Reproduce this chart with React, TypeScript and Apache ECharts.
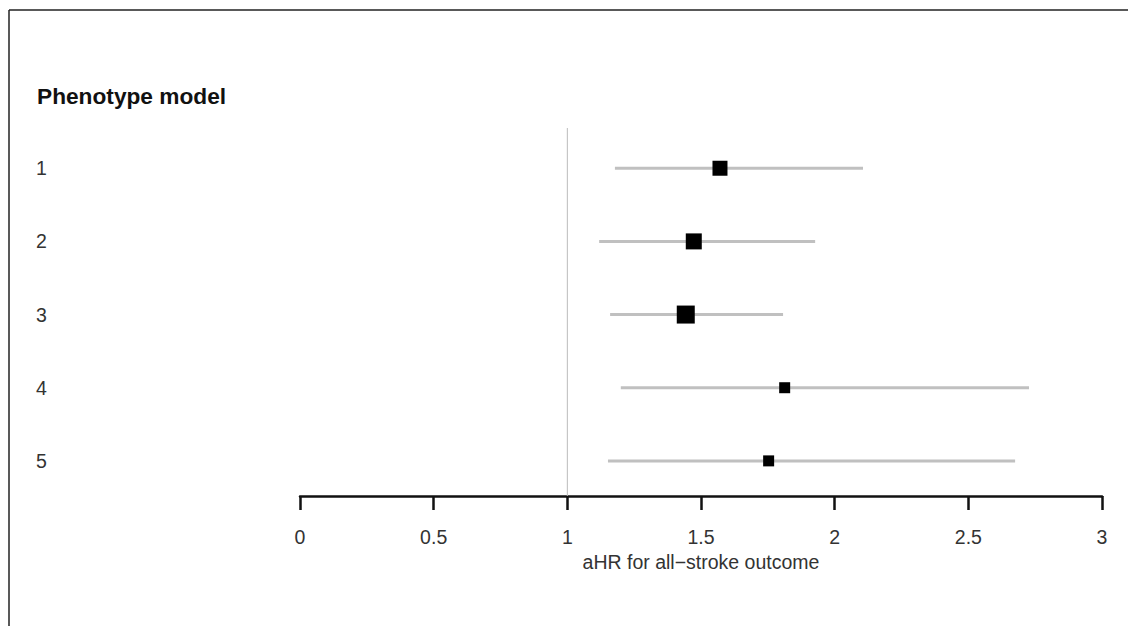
import React, { useEffect, useRef } from "react";
import * as echarts from "echarts";

const rowLabels = ["1", "2", "3", "4", "5"];
const rowPos = [1, 2, 3, 4, 5];
const estimates = [1.571, 1.473, 1.443, 1.813, 1.753];
const lowerCI = [1.178, 1.119, 1.16, 1.2, 1.152];
const upperCI = [2.106, 1.927, 1.807, 2.727, 2.675];
const boxSizes = [15, 16, 18, 11, 11];
const xTicks = [0, 0.5, 1, 1.5, 2, 2.5, 3];

export default function App() {
  const ref = useRef<HTMLDivElement>(null);
  useEffect(() => {
    if (!ref.current) return;
    const chart = echarts.init(ref.current, null, { renderer: "svg" });
    const font = "Liberation Sans, Arial, sans-serif";
    const data = rowPos.map((y, i) => [estimates[i], y, lowerCI[i], upperCI[i], boxSizes[i]]);
    chart.setOption({
      animation: false,
      backgroundColor: "#fff",
      grid: { left: 300, right: 26, top: 128, bottom: 130 },
      xAxis: {
        type: "value",
        min: 0,
        max: 3,
        interval: 0.5,
        splitLine: { show: false },
        axisLine: { show: true, onZero: false, lineStyle: { color: "#111", width: 2.5 } },
        axisTick: { show: true, inside: false, length: 14, lineStyle: { color: "#111", width: 2.5 } },
        axisLabel: {
          margin: 31,
          fontSize: 19.5,
          color: "#333",
          fontFamily: font,
          formatter: (v: number) => (xTicks.includes(v) ? String(v) : ""),
        },
        name: "aHR for all\u2212stroke outcome",
        nameLocation: "middle",
        nameGap: 56,
        nameTextStyle: { fontSize: 19.5, color: "#333", fontFamily: font },
      },
      yAxis: {
        type: "value",
        min: 0.45,
        max: 5.48,
        inverse: true,
        splitLine: { show: false },
        axisLine: { show: false },
        axisTick: { show: false },
        axisLabel: {
          customValues: rowPos,
          align: "left",
          margin: 264,
          fontSize: 19.5,
          color: "#333",
          fontFamily: font,
          formatter: (v: number) => {
            const i = rowPos.indexOf(v);
            return i >= 0 ? rowLabels[i] : "";
          },
        },
      },
      graphic: [
        { type: "line", shape: { x1: 9, y1: 10, x2: 1128, y2: 10 }, style: { stroke: "#222", lineWidth: 1.5 } },
        { type: "line", shape: { x1: 9, y1: 10, x2: 9, y2: 626 }, style: { stroke: "#222", lineWidth: 1.5 } },
        {
          type: "text",
          left: 37,
          top: 84,
          style: { text: "Phenotype model", font: `bold 22.7px ${font}`, fill: "#111" },
        },
      ],
      series: [
        {
          type: "line",
          data: [[1, 0.45], [1, 5.48]],
          symbol: "none",
          lineStyle: { color: "#bbb", width: 1 },
          silent: true,
        },
        {
          type: "custom",
          data,
          renderItem: (params: any, api: any) => {
            const est = api.value(0);
            const y = api.value(1);
            const lo = api.coord([api.value(2), y]);
            const hi = api.coord([api.value(3), y]);
            const c = api.coord([est, y]);
            const s = api.value(4);
            return {
              type: "group",
              children: [
                {
                  type: "line",
                  shape: { x1: lo[0], y1: lo[1], x2: hi[0], y2: hi[1] },
                  style: { stroke: "#c0c0c0", lineWidth: 3 },
                },
                {
                  type: "rect",
                  shape: { x: c[0] - s / 2, y: c[1] - s / 2, width: s, height: s },
                  style: { fill: "#000" },
                },
              ],
            };
          },
        },
      ],
    });
    return () => chart.dispose();
  }, []);
  return <div ref={ref} style={{ width: 1128, height: 626, position: "absolute", left: 0, top: 0 }} />;
}
